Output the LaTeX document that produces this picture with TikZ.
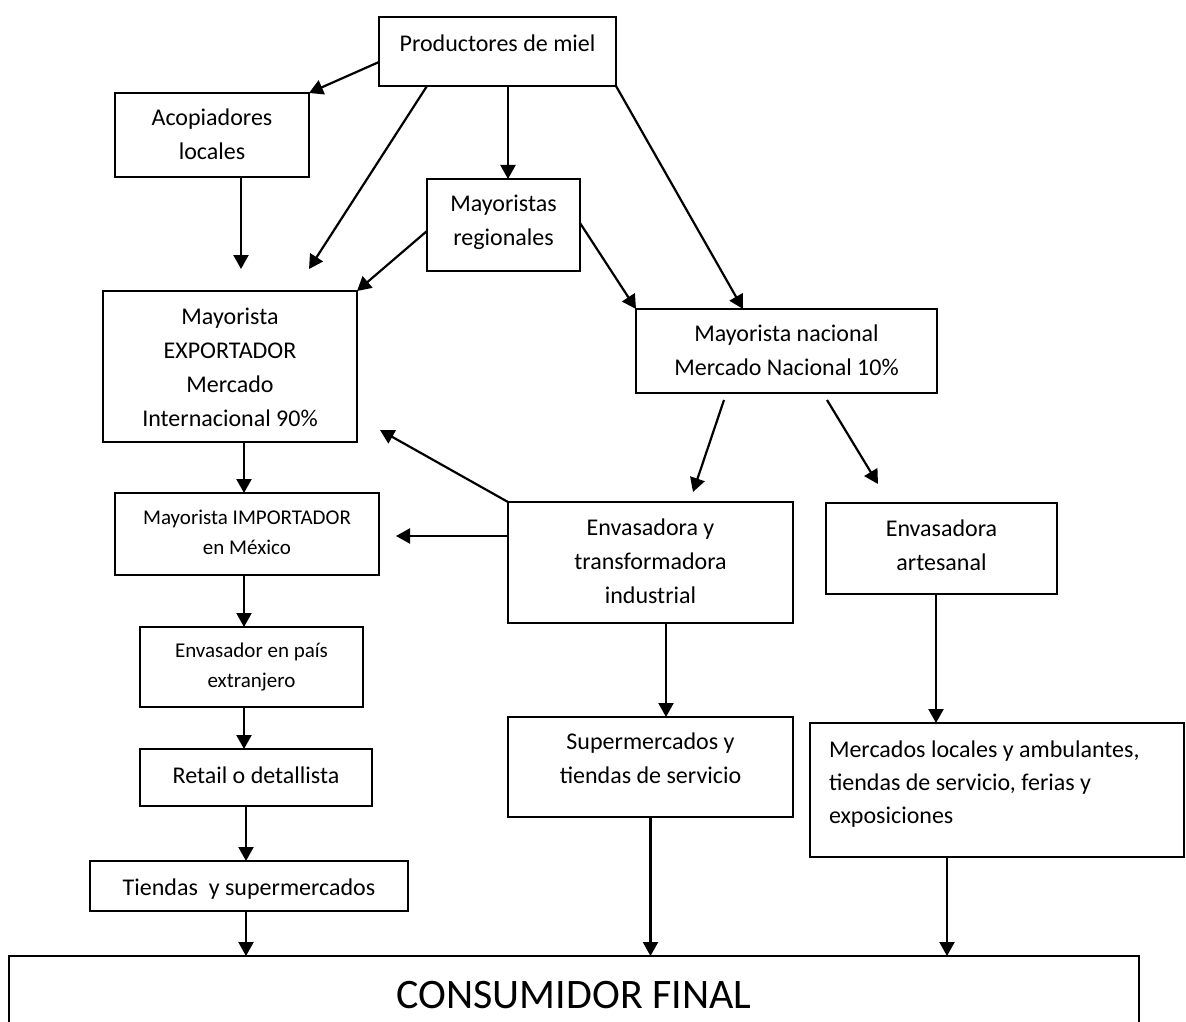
\documentclass[tikz,border=0pt]{standalone}
\usepackage{fontspec}
\setmainfont{Carlito}
\usetikzlibrary{arrows.meta,fit}

\newcommand{\mainsz}{\fontsize{24}{34}\selectfont}
\newcommand{\smallsz}{\fontsize{21}{29.5}\selectfont}
\newcommand{\bigsz}{\fontsize{42}{50}\selectfont}

\tikzset{
  chainbox/.style={draw=black, line width=1.7pt, inner sep=0pt, outer sep=0pt, fill=white},
  % multi-line labels sit on the baseline of their last line
  lbl/.style={inner sep=0pt, outer sep=0pt, align=center, font=\mainsz, anchor=base},
  lblsmall/.style={lbl, font=\smallsz},
  arr/.style={line width=2.2pt, -{Triangle[length=14pt,width=15pt]}}
}

\begin{document}
\begin{tikzpicture}[x=1pt, y=-1pt]
\clip (0,0) rectangle (1186,1022);
\fill[white] (0,0) rectangle (1186,1022);

% ---- boxes (corners in pixel coordinates) ----
\node[chainbox, fit={(379,17) (616,86)}]   (prod) {};
\node[chainbox, fit={(115,93) (309,177)}]  (acop) {};
\node[chainbox, fit={(427,179) (580,271)}] (reg)  {};
\node[chainbox, fit={(103,291) (357,442)}] (exp)  {};
\node[chainbox, fit={(636,309) (937,393)}] (nac)  {};
\node[chainbox, fit={(115,493) (379,575)}] (imp)  {};
\node[chainbox, fit={(508,502) (793,623)}] (ind)  {};
\node[chainbox, fit={(826,503) (1057,594)}] (art) {};
\node[chainbox, fit={(140,627) (363,707)}] (env)  {};
\node[chainbox, fit={(508,717) (793,817)}] (sup)  {};
\node[chainbox, fit={(810,723) (1184,857)}] (mer) {};
\node[chainbox, fit={(140,749) (372,806)}] (ret)  {};
\node[chainbox, fit={(90,861) (408,911)}]  (tie)  {};
\node[chainbox, fit={(9,956) (1139,1040)}] (con)  {};

% ---- box texts ----
\node[lbl] (prod-t) at (497.5,51.5) {Productores de miel};
\node[lbl] (acop-t) at (212,160) {Acopiadores\\locales};
\node[lbl] (reg-t)  at (503.5,245) {Mayoristas\\regionales};
\node[lbl] (exp-t)  at (230,426) {Mayorista\\EXPORTADOR\\Mercado\\Internacional 90\%};
\node[lbl] (nac-t)  at (786.5,375) {Mayorista nacional\\Mercado Nacional 10\%};
\node[lblsmall] (imp-t) at (247,554) {Mayorista IMPORTADOR\\en México};
\node[lbl] (ind-t)  at (650.5,603) {Envasadora y\\transformadora\\industrial};
\node[lbl] (art-t)  at (941.5,570) {Envasadora\\artesanal};
\node[lblsmall] (env-t) at (251.5,687) {Envasador en país\\extranjero};
\node[lbl] (sup-t)  at (650.5,783) {Supermercados y\\tiendas de servicio};
\node[lbl, align=left, anchor=base west, font=\fontsize{24}{33}\selectfont] (mer-t) at (829,823)
  {Mercados locales y ambulantes,\\tiendas de servicio, ferias y\\exposiciones};
\node[lbl] (ret-t)  at (256,783) {Retail o detallista};
\node[lbl] (tie-t)  at (249,895) {Tiendas\ \ y supermercados};
\node[lbl, font=\bigsz] (con-t) at (574,1008) {CONSUMIDOR FINAL};

% ---- connectors ----
\draw[arr] ([yshift=-10.5pt]prod.west) -- (acop.north east);
\draw[arr] ([xshift=48pt]prod.south west) -- ([xshift=-48pt,yshift=22pt]exp.north east);
\draw[arr] ([xshift=10.5pt]prod.south) -- ([xshift=4.5pt]reg.north);
\draw[arr] (prod.south east) -- ([xshift=-43.5pt]nac.north);
\draw[arr] ([xshift=29pt]acop.south) -- ([xshift=11pt,yshift=22pt]exp.north);
\draw[arr] ([yshift=-6pt]reg.west) -- (exp.north east);
\draw[arr] ([yshift=2pt]reg.east) -- (nac.north west);
\draw[arr] ([xshift=14pt]exp.south) -- ([xshift=-3pt]imp.north);
\draw[arr] ([xshift=-62.5pt,yshift=-7pt]nac.south) -- ([xshift=42.5pt,yshift=10pt]ind.north);
\draw[arr] ([xshift=40.5pt,yshift=-7pt]nac.south) -- ([xshift=-63.5pt,yshift=19pt]art.north);
\draw[arr] (ind.north west) -- ([xshift=23pt,yshift=12pt]exp.south east);
\draw[arr] ([yshift=26.5pt]ind.west) -- ([xshift=17pt,yshift=-2pt]imp.east);
\draw[arr] ([xshift=-3pt]imp.south) -- ([xshift=-7.5pt]env.north);
\draw[arr] ([xshift=-7.5pt]env.south) -- ([xshift=-12pt]ret.north);
\draw[arr] ([xshift=-10pt]ret.south) -- ([xshift=-3pt]tie.north);
\draw[arr] ([xshift=-3pt]tie.south) -- ([xshift=237pt]con.north west);
\draw[arr] ([xshift=15.5pt]ind.south) -- ([xshift=15.5pt]sup.north);
\draw[arr] ([xshift=-5.5pt]art.south) -- ([xshift=-61pt]mer.north);
\draw[arr] (sup.south) -- ([xshift=641.5pt]con.north west);
\draw[arr] ([xshift=-50pt]mer.south) -- ([xshift=938pt]con.north west);
\end{tikzpicture}
\end{document}
